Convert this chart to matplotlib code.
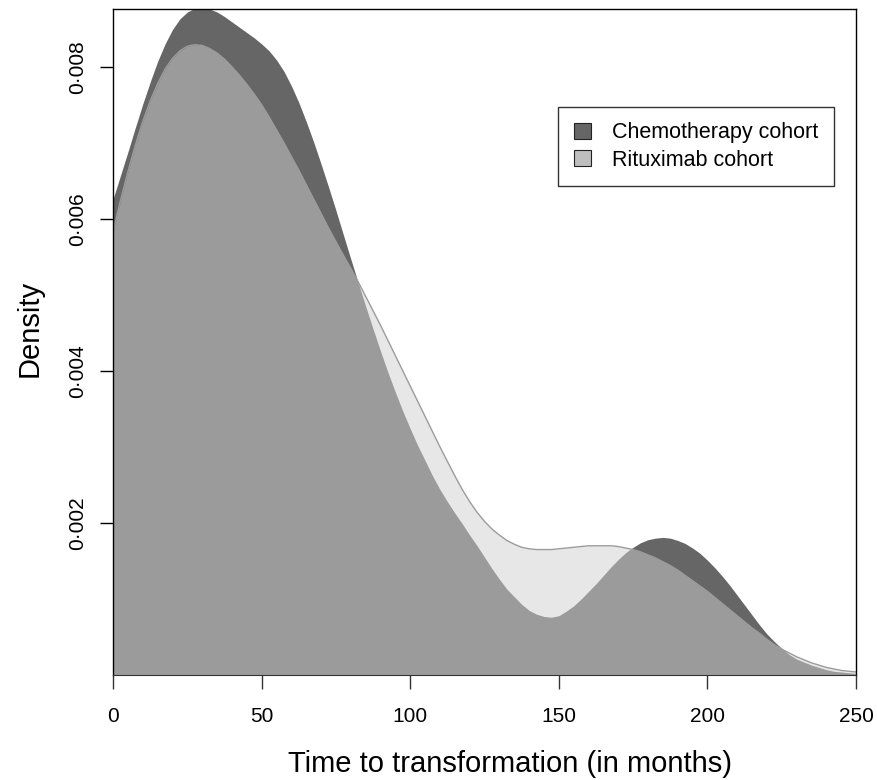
import matplotlib
matplotlib.use("Agg")
import matplotlib.pyplot as plt
import numpy as np

plt.rcParams['font.family'] = ['Liberation Sans', 'DejaVu Sans']

# density estimates, one value every 2.5 months from 0 to 250
months = [i * 2.5 for i in range(101)]
chemo_density = [
    0.00626, 0.00657, 0.00688, 0.00720, 0.00751, 0.00780, 0.00807, 0.00830,
    0.00849, 0.00863, 0.00872, 0.00877, 0.00878, 0.00876, 0.00872, 0.00866,
    0.00859, 0.00852, 0.00845, 0.00838, 0.00830, 0.00821, 0.00809, 0.00794,
    0.00775, 0.00753, 0.00728, 0.00701, 0.00672, 0.00642, 0.00611, 0.00579,
    0.00547, 0.00516, 0.00485, 0.00455, 0.00426, 0.00398, 0.00372, 0.00347,
    0.00324, 0.00302, 0.00282, 0.00262, 0.00244, 0.00228, 0.00213, 0.00199,
    0.00184, 0.00170, 0.00155, 0.00140, 0.00126, 0.00113, 0.00103, 0.00093,
    0.00085, 0.00080, 0.00077, 0.00076, 0.00078, 0.00084, 0.00091, 0.00100,
    0.00110, 0.00120, 0.00131, 0.00142, 0.00152, 0.00161, 0.00168, 0.00174,
    0.00178, 0.00180, 0.00181, 0.00180, 0.00177, 0.00173, 0.00167, 0.00160,
    0.00151, 0.00141, 0.00130, 0.00118, 0.00105, 0.00092, 0.00079, 0.00066,
    0.00054, 0.00044, 0.00035, 0.00027, 0.00021, 0.00017, 0.00013, 0.00010,
    0.00007, 0.00005, 0.00004, 0.00003, 0.00002,
]
ritux_density = [
    0.00583, 0.00624, 0.00662, 0.00697, 0.00728, 0.00755, 0.00778, 0.00797,
    0.00811, 0.00821, 0.00827, 0.00829, 0.00828, 0.00824, 0.00818, 0.00810,
    0.00800, 0.00789, 0.00777, 0.00764, 0.00750, 0.00734, 0.00717, 0.00700,
    0.00682, 0.00664, 0.00645, 0.00626, 0.00607, 0.00588, 0.00570, 0.00552,
    0.00535, 0.00517, 0.00498, 0.00479, 0.00460, 0.00440, 0.00420, 0.00400,
    0.00380, 0.00360, 0.00340, 0.00320, 0.00300, 0.00281, 0.00262, 0.00244,
    0.00228, 0.00214, 0.00202, 0.00192, 0.00184, 0.00177, 0.00172, 0.00168,
    0.00166, 0.00165, 0.00165, 0.00165, 0.00166, 0.00167, 0.00168, 0.00169,
    0.00170, 0.00170, 0.00170, 0.00170, 0.00169, 0.00167, 0.00165, 0.00162,
    0.00158, 0.00154, 0.00149, 0.00144, 0.00138, 0.00131, 0.00124, 0.00117,
    0.00110, 0.00102, 0.00094, 0.00086, 0.00078, 0.00070, 0.00062, 0.00055,
    0.00047, 0.00040, 0.00034, 0.00029, 0.00024, 0.00020, 0.00016, 0.00013,
    0.00010, 0.00008, 0.00006, 0.00005, 0.00004,
]
series_labels = ["Chemotherapy cohort", "Rituximab cohort"]
x_ticks = [0, 50, 100, 150, 200, 250]
y_ticks = [0.002, 0.004, 0.006, 0.008]
y_tick_labels = ["0·002", "0·004", "0·006", "0·008"]

fig = plt.figure(figsize=(8.77, 7.8), dpi=100)
ax = fig.add_axes([0.1289, 0.1346, 0.8472, 0.8539])

x = np.array(months)
ax.fill_between(x, 0, chemo_density, color="#666666", lw=0)
ax.fill_between(x, 0, ritux_density, color=(0.82, 0.82, 0.82), alpha=0.5, lw=0)
ax.plot(x, ritux_density, color="#9c9c9c", lw=1)

ax.set_xlim(0, 250)
ax.set_ylim(0, 0.00876)
ax.set_xticks(x_ticks)
ax.set_xticklabels([str(t) for t in x_ticks])
ax.set_yticks(y_ticks)
ax.set_yticklabels(y_tick_labels, rotation=90, va="center")
ax.tick_params(axis="x", length=10, width=1, pad=13, labelsize=15, color="#333333")
ax.tick_params(axis="y", length=9.5, width=1, pad=9, labelsize=15)
for side in ["left", "top", "right"]:
    ax.spines[side].set_linewidth(1)
ax.spines["bottom"].set_color("#333333")

ax.set_xlabel("Time to transformation (in months)", fontsize=21, va="center")
ax.xaxis.set_label_coords(0.534, -0.133)
ax.set_ylabel("Density", fontsize=21, va="center")
ax.yaxis.set_label_coords(-0.112, 0.521)

handles = [
    plt.Rectangle((0, 0), 1, 1, facecolor="#666666", edgecolor="#222222", lw=0.8),
    plt.Rectangle((0, 0), 1, 1, facecolor="#bebebe", edgecolor="#222222", lw=0.8),
]
leg = ax.legend(handles, series_labels, loc="upper left",
                bbox_to_anchor=((558 - 113) / 743, (675 - 107) / 666),
                fontsize=15.5, frameon=True, fancybox=False, edgecolor="black",
                borderpad=0.72, handlelength=0.8, handleheight=0.8,
                handletextpad=1.0, labelspacing=0.28, borderaxespad=0)
leg.get_frame().set_linewidth(1)

fig.savefig("out.png", dpi=100)
